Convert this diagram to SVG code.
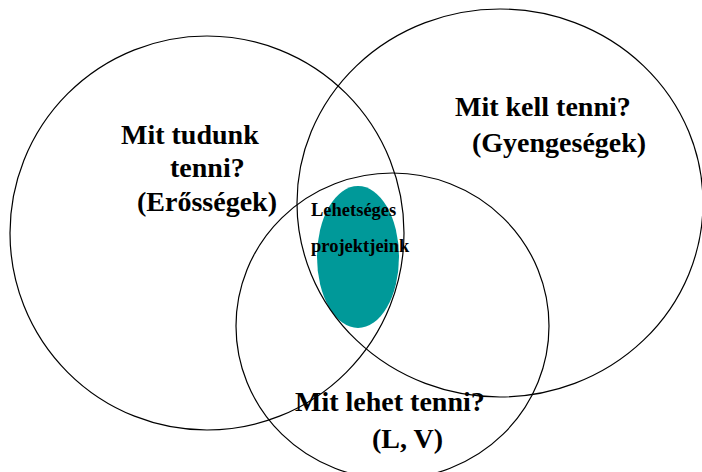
<svg xmlns="http://www.w3.org/2000/svg" width="702" height="472" viewBox="0 0 702 472">
<style>
.c{fill:none;stroke:#000;stroke-width:1.2}
.t{font-family:"Liberation Serif","Times New Roman",serif;font-weight:bold;fill:#000;font-size:28px}
.s{font-size:18.5px}
</style>
<rect width="702" height="472" fill="#fff"/>
<g id="projects-fill"><ellipse cx="358" cy="257" rx="41" ry="71" fill="#009999"/></g>
<g id="strengths"><ellipse class="c" cx="207" cy="233" rx="197" ry="197"/></g>
<g id="weaknesses"><ellipse class="c" cx="500" cy="203" rx="203" ry="194"/></g>
<g id="opportunities"><ellipse class="c" cx="392.5" cy="326" rx="156.5" ry="153"/></g>
<g id="labels">
<text class="t" x="121" y="144">Mit tudunk</text>
<text class="t" x="170" y="177">tenni?</text>
<text class="t" x="137" y="211">(Erősségek)</text>
<text class="t" x="455" y="116">Mit kell tenni?</text>
<text class="t" x="472" y="152">(Gyengeségek)</text>
<text class="t" x="295" y="411">Mit lehet tenni?</text>
<text class="t" x="372" y="448">(L, V)</text>
<text class="t s" x="311" y="216">Lehetséges</text>
<text class="t s" x="311" y="252">projektjeink</text>
</g>
</svg>
